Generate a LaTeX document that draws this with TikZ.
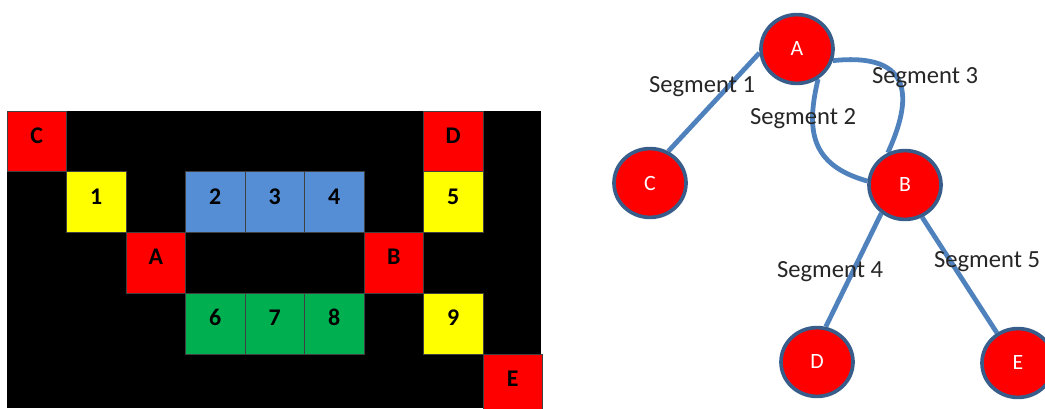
\documentclass[tikz,border=0pt]{standalone}
\usepackage{fontspec}
\setmainfont{Carlito}
\usepackage{tikz}
\usepackage{xcolor}
\usetikzlibrary{shapes.geometric, positioning, backgrounds}
\definecolor{cellred}{HTML}{FF0000}
\definecolor{cellyellow}{HTML}{FFFF00}
\definecolor{cellblue}{HTML}{558ED5}
\definecolor{cellgreen}{HTML}{00B050}
\definecolor{segblue}{HTML}{4F81BD}
\definecolor{ringblue}{HTML}{385D8A}

\begin{document}
\begin{tikzpicture}[x=0.025cm, y=-0.025cm,
    cell/.style={rectangle, draw=black!75, line width=0.5pt, inner sep=0pt,
        minimum width=1.4875cm, minimum height=1.519cm,
        text height=11pt, text depth=8pt,
        font=\fontsize{17}{17}\selectfont\bfseries},
    vertex/.style={ellipse, fill=cellred, draw=ringblue, line width=2.6pt,
        minimum width=1.8cm, minimum height=1.72cm, inner sep=0pt,
        text=white, font=\fontsize{15.5}{15.5}\selectfont},
    seg/.style={segblue, line width=3.4pt},
    seglabel/.style={font=\fontsize{17.5}{17.5}\selectfont, text=black!85}]
    \useasboundingbox (0,0) rectangle (1045,408);

    % Grid of cells
    \fill[black] (7,111) rectangle (541,408);
    \foreach \c/\r/\lab/\col in {0/0/C/cellred, 7/0/D/cellred,
        1/1/1/cellyellow, 3/1/2/cellblue, 4/1/3/cellblue, 5/1/4/cellblue, 7/1/5/cellyellow,
        2/2/A/cellred, 6/2/B/cellred,
        3/3/6/cellgreen, 4/3/7/cellgreen, 5/3/8/cellgreen, 7/3/9/cellyellow,
        8/4/E/cellred} {
        \node[cell, fill=\col] (cell\lab) at ({7+59.5*(\c+0.5)}, {111+60.75*(\r+0.5)}) {\lab};
    }

    % Graph nodes
    \node[vertex] (A) at (797,49) {A};
    \node[vertex] (C) at (650,183) {C};
    \node[vertex] (B) at (905,185) {B};
    \node[vertex] (D) at (817,362) {D};
    \node[vertex] (E) at (1018,363) {E};

    % Segments (behind the nodes)
    \begin{scope}[on background layer]
    \draw[seg] (C.60) -- (A.186);
    \draw[seg] (A.-55) .. controls (806,130) and (810,165) .. (B.174);
    \draw[seg] (A.-18) .. controls (915,52) and (912,100) .. (B.118);
    \draw[seg] (B.-130) -- (D.76);
    \draw[seg] (B.-62) -- (E.125);
    \end{scope}

    % Segment labels
    \node[seglabel] (lbl1) at (702,87) {Segment 1};
    \node[seglabel] (lbl2) at (803,119) {Segment 2};
    \node[seglabel] (lbl3) at (925,78) {Segment 3};
    \node[seglabel] (lbl4) at (830,272) {Segment 4};
    \node[seglabel] (lbl5) at (987,262) {Segment 5};
\end{tikzpicture}
\end{document}
